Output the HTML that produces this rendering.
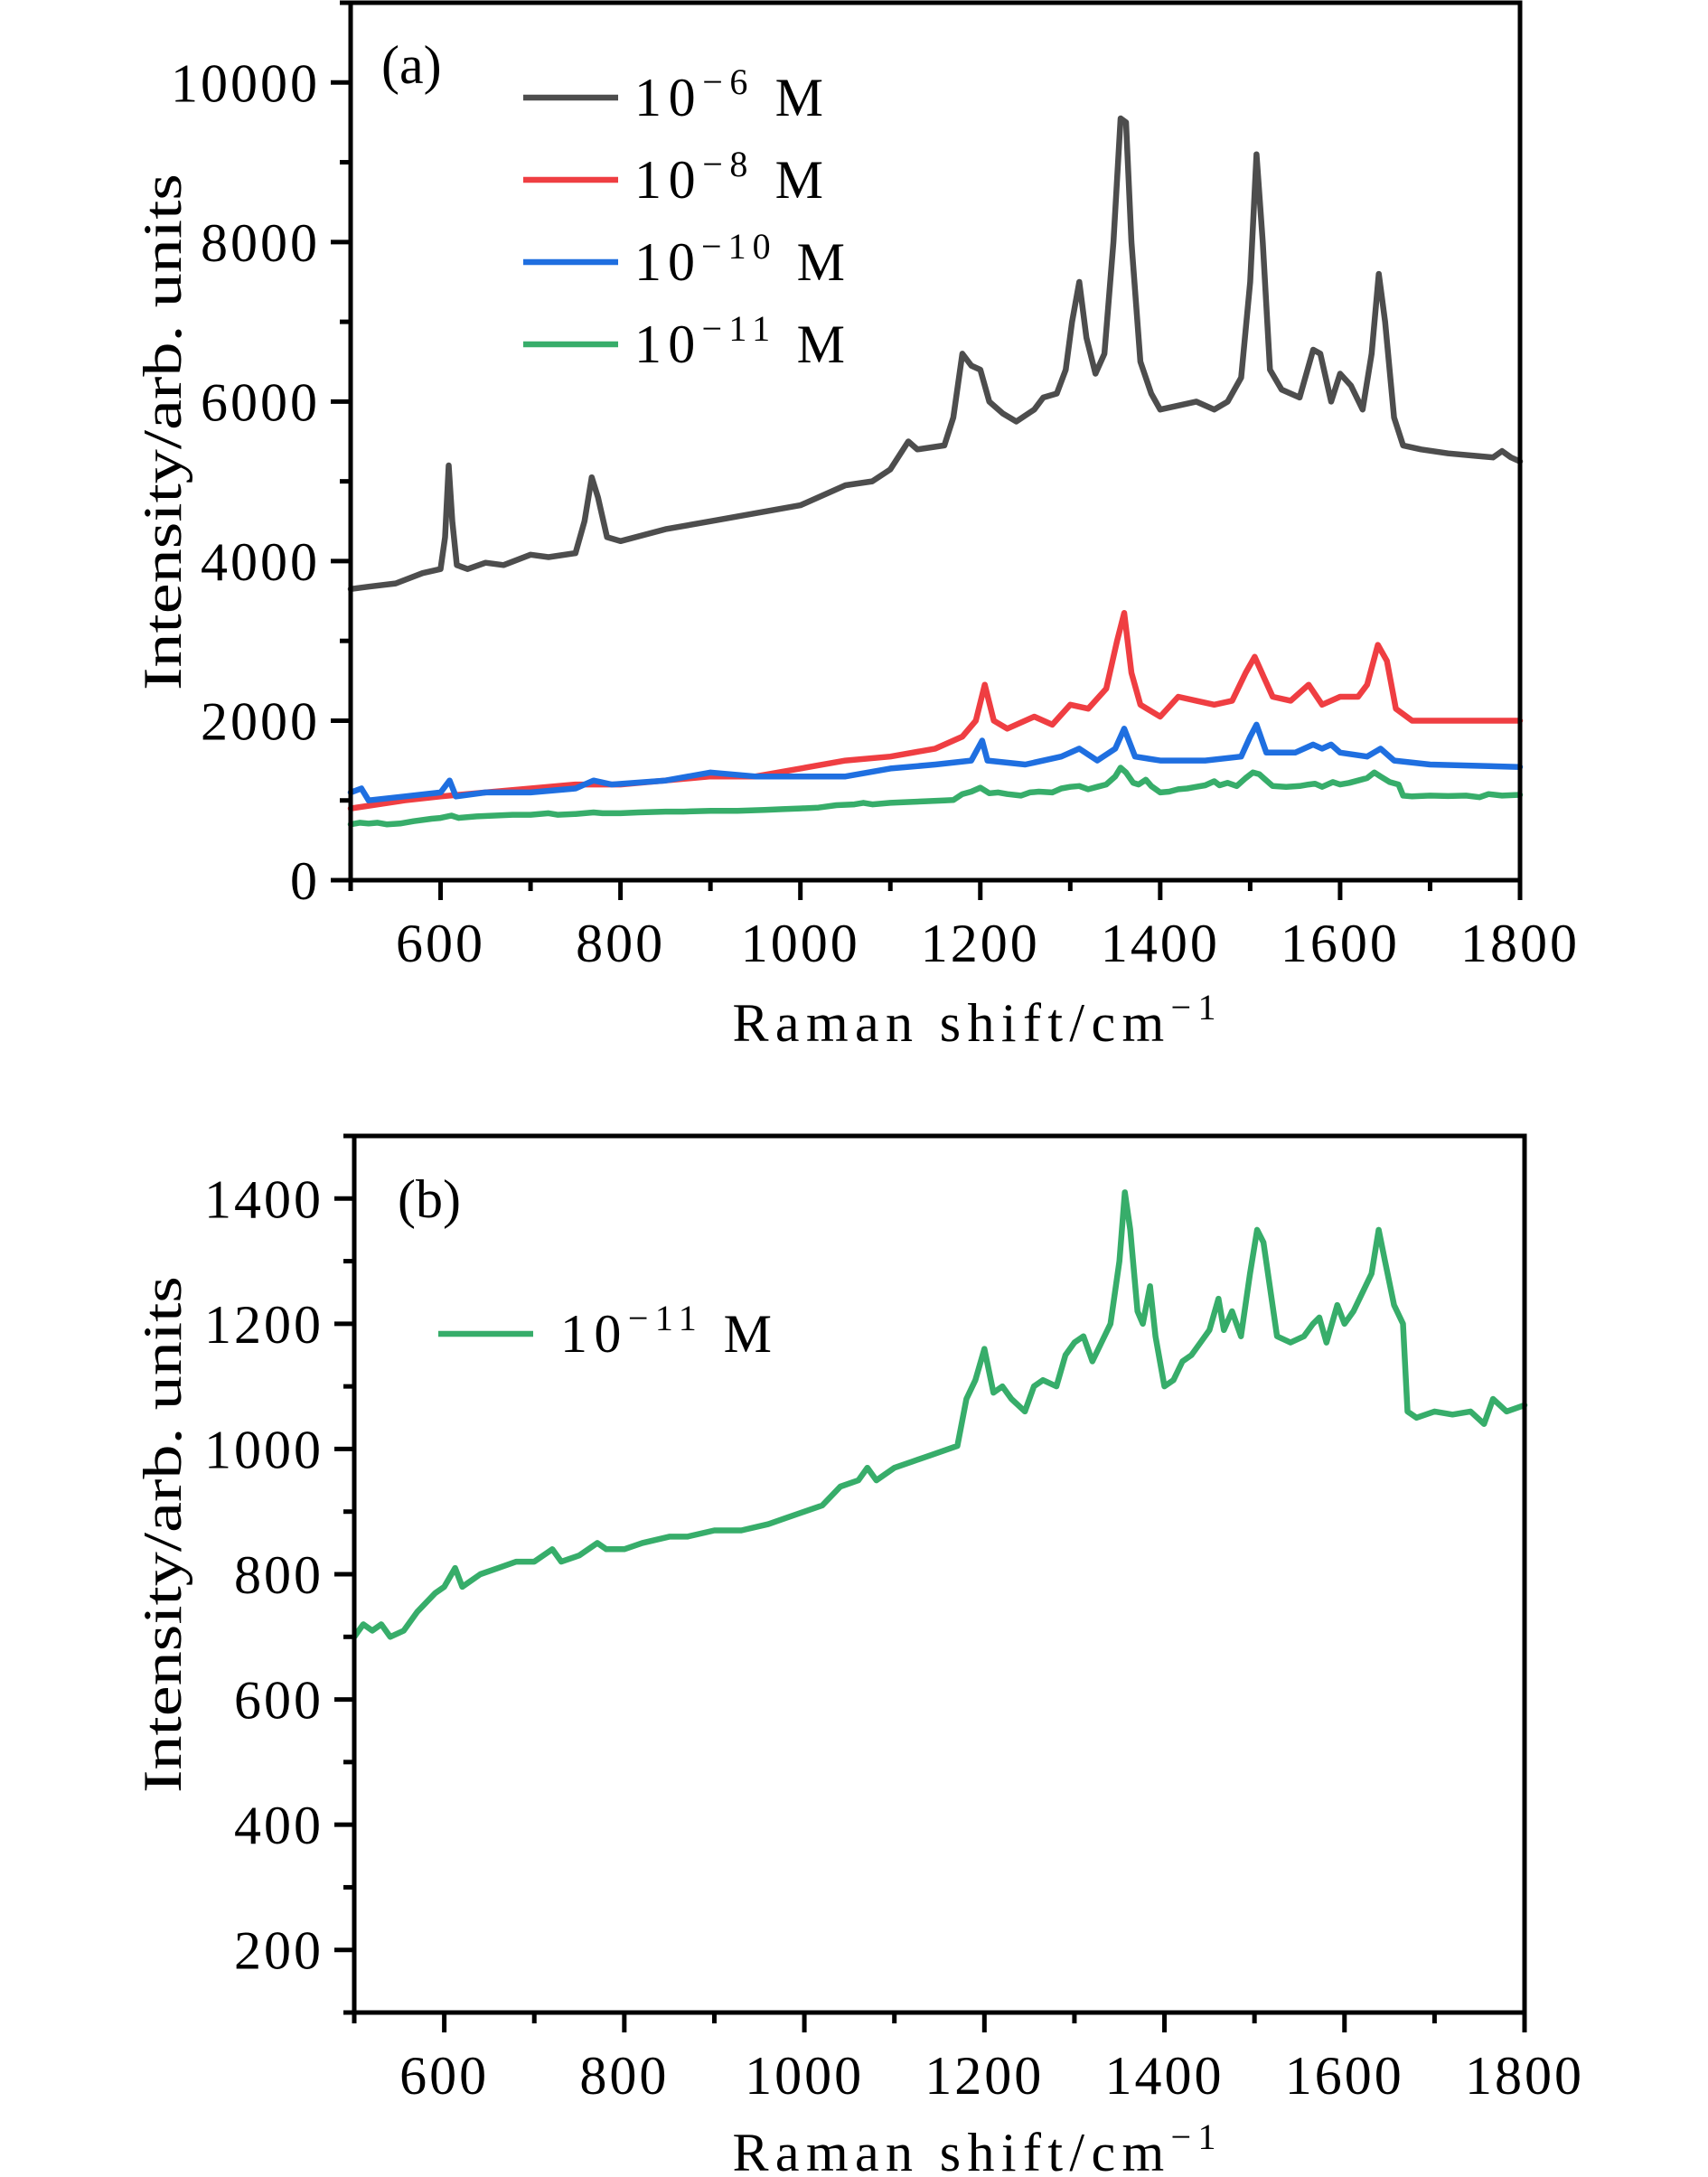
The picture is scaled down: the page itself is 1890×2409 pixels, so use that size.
<!DOCTYPE html>
<html><head><meta charset="utf-8">
<style>
html,body{margin:0;padding:0;background:#fff;}
svg{display:block;}
text{font-family:"Liberation Serif","DejaVu Serif",serif;fill:#000;}
</style></head>
<body>
<svg id="chart" width="1890" height="2409" viewBox="0 0 1890 2409" xmlns="http://www.w3.org/2000/svg">
<g id="panelA"></g>
<g id="panelB"></g>
</svg>
<script>
// ---- data ----
const blackX=[500,520,550,580,600,605,609,613,618,630,650,670,700,720,750,760,768,775,785,800,850,900,950,1000,1050,1080,1100,1120,1130,1160,1170,1180,1190,1200,1210,1225,1240,1260,1270,1285,1295,1302,1310,1318,1328,1338,1348,1356,1362,1368,1378,1390,1400,1420,1440,1460,1475,1490,1500,1507,1514,1522,1535,1555,1570,1578,1590,1600,1612,1625,1635,1643,1650,1660,1670,1690,1720,1750,1770,1780,1790,1800];
const blackY=[3650,3680,3720,3850,3900,4300,5200,4500,3950,3900,3980,3950,4080,4050,4100,4500,5050,4800,4300,4250,4400,4500,4600,4700,4950,5000,5150,5500,5400,5450,5800,6600,6450,6400,6000,5850,5750,5900,6050,6100,6400,7000,7500,6800,6350,6600,8000,9550,9500,8000,6500,6100,5900,5950,6000,5900,6000,6300,7500,9100,8000,6400,6150,6050,6650,6600,6000,6350,6200,5900,6600,7600,7000,5800,5450,5400,5350,5320,5300,5380,5300,5250];
const redX=[500,530,560,600,650,700,750,800,850,900,950,1000,1050,1100,1150,1180,1195,1205,1215,1230,1260,1280,1300,1320,1340,1352,1360,1368,1378,1400,1420,1440,1460,1480,1495,1505,1515,1525,1545,1565,1580,1600,1620,1630,1642,1652,1662,1680,1800];
const redY=[900,950,1000,1050,1100,1150,1200,1200,1250,1300,1300,1400,1500,1550,1650,1800,2000,2450,2000,1900,2050,1950,2200,2150,2400,3000,3350,2600,2200,2050,2300,2250,2200,2250,2600,2800,2550,2300,2250,2450,2200,2300,2300,2450,2950,2750,2150,2000,2000];
const blueX=[500,512,520,560,600,610,617,650,700,750,770,790,850,900,950,1000,1050,1100,1150,1190,1202,1208,1250,1290,1310,1330,1350,1360,1372,1400,1450,1490,1500,1507,1518,1550,1570,1580,1590,1600,1630,1645,1660,1700,1800];
const blueY=[1100,1150,1000,1050,1100,1250,1050,1100,1100,1150,1250,1200,1250,1350,1300,1300,1300,1400,1450,1500,1750,1500,1450,1550,1650,1500,1650,1900,1550,1500,1500,1550,1800,1950,1600,1600,1700,1650,1700,1600,1550,1650,1500,1450,1420];
const greenX=[500,510,520,530,540,555,570,590,600,612,620,640,660,680,700,720,730,750,770,780,800,820,850,870,900,930,960,980,1000,1020,1040,1060,1070,1080,1100,1120,1140,1160,1170,1180,1190,1200,1210,1220,1230,1245,1255,1265,1280,1290,1300,1310,1320,1330,1340,1350,1356,1362,1370,1376,1384,1390,1400,1410,1420,1430,1440,1450,1460,1466,1475,1485,1495,1503,1510,1518,1525,1540,1555,1565,1572,1580,1592,1600,1610,1620,1630,1638,1645,1655,1665,1670,1680,1700,1720,1740,1755,1765,1780,1800];
const greenY=[700,720,710,720,700,710,740,770,780,810,780,800,810,820,820,840,820,830,850,840,840,850,860,860,870,870,880,890,900,910,940,950,970,950,970,980,990,1000,1005,1080,1110,1160,1090,1100,1080,1060,1100,1110,1100,1150,1170,1180,1140,1170,1200,1300,1410,1350,1220,1200,1260,1180,1100,1110,1140,1150,1170,1190,1240,1190,1220,1180,1280,1350,1330,1250,1180,1170,1180,1200,1210,1170,1230,1200,1220,1250,1280,1350,1300,1230,1200,1060,1050,1060,1055,1060,1040,1080,1060,1070];
const xTicks=[600,800,1000,1200,1400,1600,1800];
const yTicksA=[0,2000,4000,6000,8000,10000];
const yTicksB=[200,400,600,800,1000,1200,1400];

const NS="http://www.w3.org/2000/svg";
function mk(parent,tag,attrs){const e=document.createElementNS(NS,tag);for(const k in attrs)e.setAttribute(k,attrs[k]);parent.appendChild(e);return e;}

function panel(g,cfg){
  const sx=v=>cfg.L+(v-500)/(1300)*(cfg.R-cfg.L);
  const sy=v=>cfg.B-(v-cfg.ymin)/(cfg.ymax-cfg.ymin)*(cfg.B-cfg.T);
  cfg.series.forEach(s=>{
    let d='';
    s.x.forEach((xv,i)=>{d+=(i?'L':'M')+sx(xv).toFixed(1)+','+sy(s.y[i]).toFixed(1);});
    const p=mk(g,'path',{d:d,fill:'none',stroke:s.color,'stroke-width':6.5,'stroke-linejoin':'round','stroke-linecap':'round'});
    
    
  });
  const fr=mk(g,'rect',{x:cfg.L,y:cfg.T,width:cfg.R-cfg.L,height:cfg.B-cfg.T,fill:'none',stroke:'#000','stroke-width':5});
  
  
  for(let v=500;v<=1800;v+=100){
    const major=v%200===0;
    const t=mk(g,'line',{x1:sx(v),x2:sx(v),y1:cfg.B,y2:cfg.B+(major?22:12),stroke:'#000','stroke-width':5});
    
    
  }
  xTicks.forEach(v=>{
    const t=mk(g,'text',{x:sx(v),y:cfg.B+90,'font-size':60,'text-anchor':'middle','letter-spacing':3});
    t.textContent=v;
    
    
  });
  for(let v=cfg.minorStart;v<=cfg.ymax;v+=cfg.minorStep){
    if(v<cfg.ymin)continue;
    const major=cfg.yTicks.includes(v);
    const t=mk(g,'line',{x1:cfg.L-(major?22:12),x2:cfg.L,y1:sy(v),y2:sy(v),stroke:'#000','stroke-width':5});
    
    
  }
  cfg.yTicks.forEach(v=>{
    const t=mk(g,'text',{x:cfg.L-34,y:sy(v)+21,'font-size':60,'text-anchor':'end','letter-spacing':3});
    t.textContent=v;
    
    
  });
  const xt=mk(g,'text',{x:1078,y:cfg.xTitleY,'font-size':60,'text-anchor':'middle',textLength:535,lengthAdjust:'spacing'});
  xt.innerHTML='Raman shift/cm<tspan dy="-24" font-size="40">−1</tspan>';
  
  
  const yt=mk(g,'text',{x:0,y:0,'font-size':60,'text-anchor':'middle',transform:`translate(${cfg.yTitleX},${cfg.yTitleCY}) rotate(-90)`,textLength:572,lengthAdjust:'spacingAndGlyphs'});
  yt.textContent='Intensity/arb. units';
  
  
  const pl=mk(g,'text',{x:cfg.labX,y:cfg.labY,'font-size':60});
  pl.textContent=cfg.label;
  
  
  cfg.legend.forEach(le=>{
    const lg=mk(g,'g',{});
    
    
    mk(lg,'line',{x1:le.x1,x2:le.x2,y1:le.y,y2:le.y,stroke:le.color,'stroke-width':6.5});
    const tx=mk(lg,'text',{x:le.tx,y:le.y+20,'font-size':60,textLength:le.w,lengthAdjust:'spacing'});
    tx.innerHTML='10<tspan dy="-24" font-size="40">−'+le.exp+'</tspan><tspan dy="24">  M</tspan>';
  });
}

const C={black:'#4d4d4d',red:'#ef3e42',blue:'#1f6fe0',green:'#37ad6a'};
panel(document.getElementById('panelA'),{
  L:388,R:1682,T:3,B:974,ymin:0,ymax:11000,yTicks:yTicksA,minorStart:0,minorStep:1000,
  xTitleY:1152,yTitleX:200,yTitleCY:478,label:'(a)',labX:422,labY:92,
  series:[
    {name:'series-1e-6',x:blackX,y:blackY,color:C.black},
    {name:'series-1e-8',x:redX,y:redY,color:C.red},
    {name:'series-1e-10',x:blueX,y:blueY,color:C.blue},
    {name:'series-1e-11',x:greenX,y:greenY,color:C.green}
  ],
  legend:[
    {x1:579,x2:684,y:108,tx:702,exp:'6',w:209,color:C.black},
    {x1:579,x2:684,y:199,tx:702,exp:'8',w:209,color:C.red},
    {x1:579,x2:684,y:290,tx:702,exp:'10',w:233,color:C.blue},
    {x1:579,x2:684,y:381,tx:702,exp:'11',w:233,color:C.green}
  ]
});
panel(document.getElementById('panelB'),{
  L:392,R:1687,T:1257,B:2227,ymin:100,ymax:1500,yTicks:yTicksB,minorStart:100,minorStep:100,
  xTitleY:2402,yTitleX:200,yTitleCY:1698,label:'(b)',labX:440,labY:1347,
  series:[{name:'series-b-1e-11',x:greenX,y:greenY,color:C.green}],
  legend:[{x1:485,x2:590,y:1476,tx:620,exp:'11',w:234,color:C.green}]
});
</script>
</body></html>
